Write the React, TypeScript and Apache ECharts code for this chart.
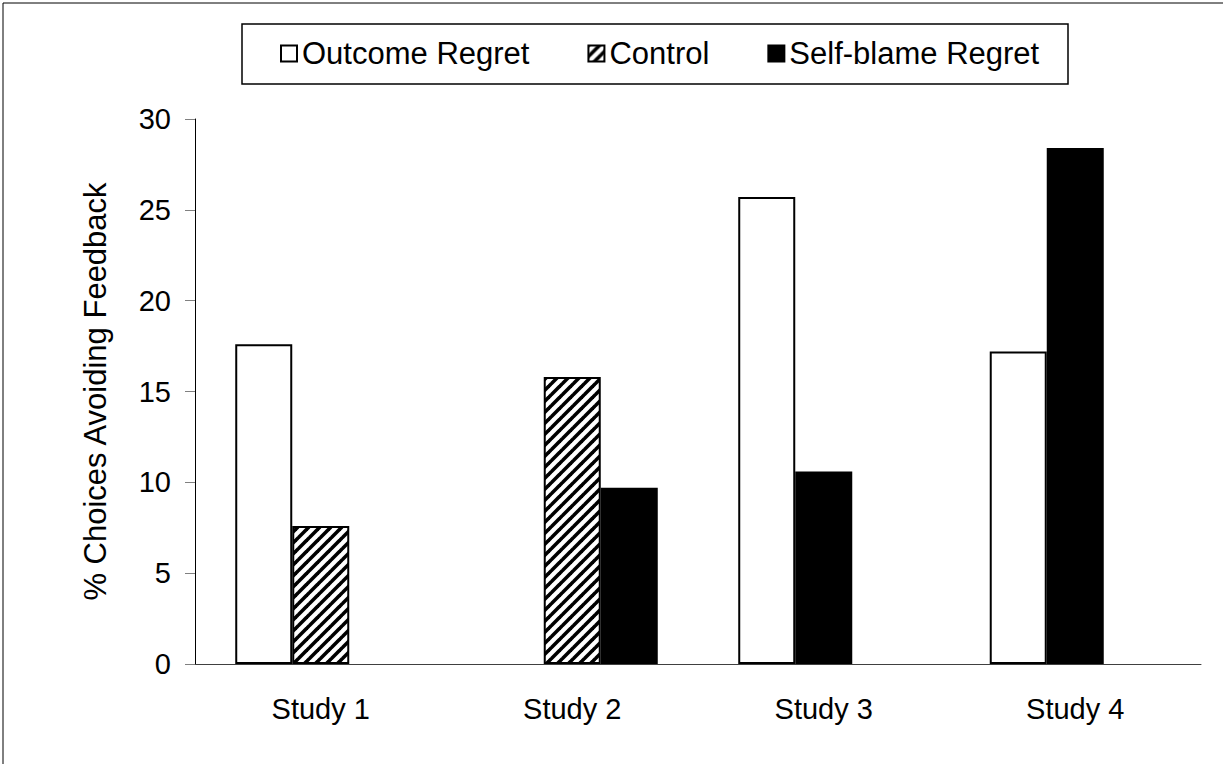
import React, { useEffect, useRef } from "react";
import * as echarts from "echarts";

const categories = ["Study 1", "Study 2", "Study 3", "Study 4"];
const outcomeRegret: (number | null)[] = [17.6, null, 25.7, 17.2];
const control: (number | null)[] = [7.6, 15.8, null, null];
const selfBlameRegret: (number | null)[] = [null, 9.7, 10.6, 28.4];
const yTicks = { min: 0, max: 30, interval: 5 };
const yTitle = "% Choices Avoiding Feedback";

const FONT = "'Liberation Sans', Arial, sans-serif";

function makeHatch(): HTMLCanvasElement {
  const s = 11;
  const c = document.createElement("canvas");
  c.width = s;
  c.height = s;
  const ctx = c.getContext("2d")!;
  ctx.fillStyle = "#fff";
  ctx.fillRect(0, 0, s, s);
  ctx.strokeStyle = "#000";
  ctx.lineWidth = 3.6;
  for (const k of [-s, 0, s]) {
    ctx.beginPath();
    ctx.moveTo(k - 1, s + 1);
    ctx.lineTo(k + s + 1, -1);
    ctx.stroke();
  }
  return c;
}

export default function App() {
  const ref = useRef<HTMLDivElement>(null);
  useEffect(() => {
    document.body.style.margin = "0";
    const chart = echarts.init(ref.current!, null, { renderer: "svg" });
    const hatch = { image: makeHatch(), repeat: "repeat" } as any;

    // first slot: outcome regret; middle slot: control, or self-blame when paired with outcome;
    // third slot: self-blame when paired with control
    const firstSlot = outcomeRegret.map((v) => v);
    const middleSlot = categories.map((_, i) => {
      if (control[i] != null) return control[i];
      if (selfBlameRegret[i] != null && outcomeRegret[i] != null)
        return { value: selfBlameRegret[i], itemStyle: { color: "#000", borderColor: "#000" } };
      return null;
    });
    const thirdSlot = categories.map((_, i) => (control[i] != null ? selfBlameRegret[i] : null));

    chart.setOption({
      animation: false,
      backgroundColor: "#fff",
      textStyle: { fontFamily: FONT },
      grid: { left: 195, right: 22, top: 119, bottom: 100 },
      legend: {
        left: 280,
        top: 38,
        padding: 0,
        itemGap: 58,
        itemWidth: 16,
        itemHeight: 16,
        icon: "rect",
        textStyle: { fontSize: 31, fontFamily: FONT, color: "#000", lineHeight: 31 },
        data: ["Outcome Regret", "Control", "Self-blame Regret"],
      },
      graphic: [
        {
          type: "rect",
          shape: { x: 3, y: 3, width: 1400, height: 1000 },
          style: { fill: "none", stroke: "#000", lineWidth: 1 },
          silent: true,
          z: -1,
        },
        {
          type: "rect",
          shape: { x: 242, y: 24, width: 826, height: 60 },
          style: { fill: "none", stroke: "#000", lineWidth: 1.5 },
          silent: true,
        },
      ],
      xAxis: {
        type: "category",
        data: categories,
        axisLine: { lineStyle: { color: "#404040", width: 1 } },
        axisTick: { length: 10, lineStyle: { color: "#808080" } },
        axisLabel: { fontSize: 29, color: "#000", margin: 30, fontFamily: FONT },
      },
      yAxis: {
        type: "value",
        min: yTicks.min,
        max: yTicks.max,
        interval: yTicks.interval,
        name: yTitle,
        nameLocation: "middle",
        nameGap: 84,
        nameTextStyle: { fontSize: 31, color: "#000", fontFamily: FONT },
        axisLine: { show: true, lineStyle: { color: "#000", width: 1 } },
        axisTick: { show: true, length: 10, lineStyle: { color: "#808080" } },
        splitLine: { show: false },
        axisLabel: { fontSize: 29, color: "#000", margin: 24, fontFamily: FONT },
      },
      series: [
        {
          name: "Outcome Regret",
          type: "bar",
          data: firstSlot,
          barGap: "0%",
          barCategoryGap: "32%",
          itemStyle: { color: "#fff", borderColor: "#000", borderWidth: 2 },
        },
        {
          name: "Control",
          type: "bar",
          data: middleSlot,
          barGap: "0%",
          barCategoryGap: "32%",
          itemStyle: { color: hatch, borderColor: "#000", borderWidth: 2 },
        },
        {
          name: "Self-blame Regret",
          type: "bar",
          data: thirdSlot,
          barGap: "0%",
          barCategoryGap: "32%",
          itemStyle: { color: "#000", borderColor: "#000", borderWidth: 2 },
        },
      ],
    });
    return () => chart.dispose();
  }, []);
  return <div ref={ref} style={{ width: 1223, height: 764 }} />;
}
